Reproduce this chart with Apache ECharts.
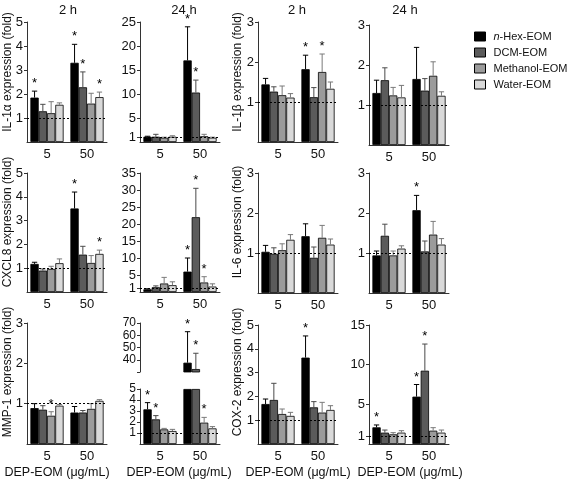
<!DOCTYPE html>
<html><head><meta charset="utf-8">
<script src="https://cdn.jsdelivr.net/npm/echarts@6/dist/echarts.min.js"></script>
<style>html,body{margin:0;padding:0;background:#fff}#c{width:567px;height:479px}</style>
</head><body><div id="c"></div>
<script>
// ---------- DATA ----------
const seriesNames = ['n-Hex-EOM', 'DCM-EOM', 'Methanol-EOM', 'Water-EOM'];
const doses = ['5', '50'];

// values per series: [dose 5, dose 50]
const il1a2hMean = [[1.85, 3.3], [1.28, 2.28], [1.2, 1.6], [1.55, 1.87]];
const il1a2hErr  = [[2.12, 4.07], [1.57, 2.92], [1.68, 2.03], [1.63, 2.08]];
const il1a2hStar = [[1, 1], [0, 1], [0, 0], [0, 1]];

const il1a24hMean = [[1.1, 17.0], [1.1, 10.3], [0.9, 1.2], [1.1, 0.9]];
const il1a24hErr  = [[1.2, 24.0], [1.6, 12.9], [1.0, 1.6], [1.3, 1.0]];
const il1a24hStar = [[0, 1], [0, 1], [0, 0], [0, 0]];

const il1b2hMean = [[1.44, 1.82], [1.26, 1.12], [1.17, 1.75], [1.11, 1.33]];
const il1b2hErr  = [[1.59, 2.17], [1.38, 1.36], [1.4, 2.2], [1.21, 1.5]];
const il1b2hStar = [[0, 1], [0, 0], [0, 1], [0, 0]];

const il1b24hMean = [[1.3, 1.65], [1.62, 1.36], [1.24, 1.73], [1.19, 1.23]];
const il1b24hErr  = [[1.62, 2.44], [1.93, 1.66], [1.44, 2.08], [1.49, 1.33]];
const il1b24hStar = [[0, 0], [0, 0], [0, 0], [0, 0]];

const cxcl82hMean = [[1.18, 3.51], [0.9, 1.57], [0.97, 1.22], [1.21, 1.6]];
const cxcl82hErr  = [[1.25, 4.2], [0.97, 1.92], [1.08, 1.53], [1.39, 1.76]];
const cxcl82hStar = [[0, 1], [0, 0], [0, 0], [0, 1]];

const cxcl824hMean = [[0.8, 6.0], [1.4, 22.0], [2.5, 2.8], [2.0, 1.6]];
const cxcl824hErr  = [[0.95, 10.0], [1.8, 30.5], [4.3, 4.5], [3.0, 2.4]];
const cxcl824hStar = [[0, 1], [0, 1], [0, 1], [0, 0]];

const il62hMean = [[1.03, 1.42], [0.98, 0.88], [1.07, 1.38], [1.33, 1.21]];
const il62hErr  = [[1.19, 1.73], [1.13, 1.15], [1.23, 1.69], [1.46, 1.35]];
const il62hStar = [[0, 0], [0, 0], [0, 0], [0, 0]];

const il624hMean = [[0.94, 2.07], [1.43, 1.04], [0.94, 1.46], [1.11, 1.21]];
const il624hErr  = [[1.05, 2.44], [1.72, 1.3], [1.05, 1.79], [1.18, 1.36]];
const il624hStar = [[0, 1], [0, 0], [0, 0], [0, 0]];

const mmp12hMean = [[0.89, 0.78], [0.85, 0.78], [0.7, 0.87], [0.95, 1.07]];
const mmp12hErr  = [[1.0, 0.93], [0.95, 0.83], [0.8, 1.0], [0.98, 1.1]];
const mmp12hStar = [[0, 0], [0, 0], [1, 0], [0, 0]];

const mmp124hMean = [[3.15, 37.6], [2.24, 32.4], [1.33, 1.94], [1.18, 1.42]];
const mmp124hErr  = [[3.76, 62.9], [2.58, 45.3], [1.42, 2.42], [1.33, 1.58]];
const mmp124hStar = [[1, 1], [1, 1], [0, 1], [0, 0]];

const cox22hMean = [[1.68, 3.63], [1.85, 1.54], [1.26, 1.32], [1.18, 1.43]];
const cox22hErr  = [[1.89, 4.54], [2.55, 1.78], [1.47, 1.75], [1.33, 1.61]];
const cox22hStar = [[0, 1], [0, 0], [0, 0], [0, 0]];

const cox224hMean = [[2.1, 5.97], [1.43, 9.24], [1.22, 1.68], [1.43, 1.43]];
const cox224hErr  = [[2.4, 7.5], [1.76, 12.6], [1.43, 2.06], [1.68, 1.76]];
const cox224hStar = [[1, 1], [0, 1], [0, 0], [0, 0]];

// tick labels
const ticks5 = [1, 2, 3, 4, 5];
const ticks3 = [1, 2, 3];
const ticks25 = [1, 5, 10, 15, 20, 25];
const ticks35 = [1, 5, 10, 15, 20, 25, 30, 35];
const ticks15 = [1, 5, 10, 15];
const ticksBreakLowOdd = [1, 3, 5];
const ticksBreakLowEven = [2, 4];
const ticksBreakHigh = [40, 50, 60, 70];

const colTitles = ['2 h', '24 h', '2 h', '24 h'];
const yNames = ['IL-1α expression (fold)', 'IL-1β expression (fold)',
                'CXCL8 expression (fold)', 'IL-6 expression (fold)',
                'MMP-1 expression (fold)', 'COX-2 expression (fold)'];
const xName = 'DEP-EOM (μg/mL)';

// ---------- STYLE / LAYOUT ----------
const FONT = '"Liberation Sans", Arial, sans-serif';
const colors = ['#000000', '#5b5b5b', '#9b9b9b', '#d9d9d9'];
const errColors = ['#000000', '#4a4a4a', '#7a7a7a', '#777777'];
const CAT_GAP = 0.17;
const colLeft = [27, 140, 258, 369];
const PW = 80;

const option = {
  animation: false,
  backgroundColor: '#fff',
  grid: [], xAxis: [], yAxis: [], series: [], graphic: [],
  legend: {
    orient: 'vertical', left: 469, top: 26, itemWidth: 11, itemHeight: 9, itemGap: 5,
    icon: 'rect', selectedMode: false, data: seriesNames,
    itemStyle: { borderColor: '#000', borderWidth: 1 },
    formatter: n => n.indexOf('n-') === 0 ? '{i|n}-Hex-EOM' : n,
    textStyle: { fontSize: 11, fontFamily: FONT, color: '#111', padding: [0, 0, 0, 3],
      rich: { i: { fontStyle: 'italic', fontSize: 11, fontFamily: FONT, color: '#111' } } }
  }
};

function errRender(params, api) {
  const ci = api.value(0), si = api.value(1), m = api.value(2), e = api.value(3), st = api.value(4), showErr = api.value(5);
  const band = api.size([1, 0])[0];
  const bw = band * (1 - CAT_GAP) / 4;
  const cx = api.coord([ci, 0])[0] + (si - 1.5) * bw;
  const y0 = api.coord([ci, m])[1];
  const y1 = api.coord([ci, e])[1];
  const cap = bw * 0.32;
  const ch = [];
  if (showErr) {
    ch.push({ type: 'line', shape: { x1: cx, y1: y0, x2: cx, y2: y1 }, style: { stroke: errColors[si], lineWidth: 1 } });
    ch.push({ type: 'line', shape: { x1: cx - cap, y1: y1, x2: cx + cap, y2: y1 }, style: { stroke: errColors[si], lineWidth: 1 } });
  }
  if (st) ch.push({ type: 'text', x: cx, y: y1 - 1,
    style: { text: '*', textAlign: 'center', textVerticalAlign: 'bottom', align: 'center', verticalAlign: 'bottom', font: '13px ' + FONT, fill: '#000' } });
  return { type: 'group', children: ch };
}

function yAxisOpt(g, cfg, labels, ticks, showLine) {
  return {
    type: 'value', gridIndex: g, min: cfg.min, max: cfg.max, position: 'left', offset: 0,
    axisLine: { show: showLine, lineStyle: { color: '#333', width: 1 } },
    axisTick: { show: true, length: 3, customValues: ticks, lineStyle: { color: '#333' } },
    axisLabel: { customValues: labels, fontSize: cfg.labelSize || 13, color: '#111', margin: 4, fontFamily: FONT,
      showMinLabel: true, showMaxLabel: true, hideOverlap: false },
    splitLine: { show: false }
  };
}

function addPanel(cfg) {
  const g = option.grid.length;
  option.grid.push({ left: cfg.left, top: cfg.top, width: PW, height: cfg.height });
  option.xAxis.push({
    type: 'category', gridIndex: g, data: doses, show: cfg.showX !== false,
    axisLine: { lineStyle: { color: '#333', width: 1 } },
    axisTick: { alignWithLabel: true, length: 4, lineStyle: { color: '#333' } },
    axisLabel: { fontSize: 13, color: '#111', margin: 6, fontFamily: FONT }
  });
  const yIdx = option.yAxis.length;
  option.yAxis.push(yAxisOpt(g, cfg, cfg.labels, cfg.tickVals || cfg.labels, true));
  if (cfg.extraLabels) option.yAxis.push(yAxisOpt(g, cfg, cfg.extraLabels, cfg.extraLabels, false));
  const clipTop = cfg.clipTop, keepMin = cfg.keepMin;
  seriesNames.forEach((n, si) => {
    const vals = cfg.mean[si].map(v => {
      if (keepMin !== undefined && v <= keepMin) return '-';
      if (clipTop !== undefined) return Math.min(v, clipTop);
      return v;
    });
    const s = {
      type: 'bar', name: n, xAxisIndex: g, yAxisIndex: yIdx, data: vals,
      barGap: '0%', barCategoryGap: (CAT_GAP * 100) + '%', clip: true,
      itemStyle: { color: colors[si], borderColor: '#000', borderWidth: 0.8 },
      emphasis: { disabled: true }
    };
    if (si === 0 && cfg.refLine) {
      s.markLine = { silent: true, symbol: 'none', z: 10, label: { show: false },
        lineStyle: { type: [2, 2], color: '#000', width: 1 }, data: [{ yAxis: 1 }] };
    }
    option.series.push(s);
  });
  const items = [];
  seriesNames.forEach((n, si) => {
    for (let ci = 0; ci < 2; ci++) {
      const m = cfg.mean[si][ci], e = cfg.err[si][ci], st = cfg.star[si][ci];
      if (keepMin !== undefined && m <= keepMin) continue;
      if (clipTop !== undefined && m > clipTop) continue;
      items.push([ci, si, m, e, st, 1]);
    }
  });
  option.series.push({
    type: 'custom', xAxisIndex: g, yAxisIndex: yIdx, renderItem: errRender, data: items,
    encode: { x: 0, y: 3 }, clip: false, z: 5, silent: true
  });
}

// row 1
addPanel({ left: colLeft[0], top: 22, height: 120, min: 0, max: 5, labels: ticks5, mean: il1a2hMean, err: il1a2hErr, star: il1a2hStar, refLine: true });
addPanel({ left: colLeft[1], top: 22, height: 120, min: 0, max: 25, labels: ticks25, mean: il1a24hMean, err: il1a24hErr, star: il1a24hStar, refLine: true });
addPanel({ left: colLeft[2], top: 22, height: 120, min: 0, max: 3, labels: ticks3, mean: il1b2hMean, err: il1b2hErr, star: il1b2hStar, refLine: true });
addPanel({ left: colLeft[3], top: 25, height: 120, min: 0, max: 3, labels: ticks3, mean: il1b24hMean, err: il1b24hErr, star: il1b24hStar, refLine: true });
// row 2
addPanel({ left: colLeft[0], top: 173, height: 119, min: 0, max: 5, labels: ticks5, mean: cxcl82hMean, err: cxcl82hErr, star: cxcl82hStar, refLine: true });
addPanel({ left: colLeft[1], top: 173, height: 119, min: 0, max: 35, labels: ticks35, mean: cxcl824hMean, err: cxcl824hErr, star: cxcl824hStar, refLine: true });
addPanel({ left: colLeft[2], top: 173, height: 120, min: 0, max: 3, labels: ticks3, mean: il62hMean, err: il62hErr, star: il62hStar, refLine: true });
addPanel({ left: colLeft[3], top: 173, height: 120, min: 0, max: 3, labels: ticks3, mean: il624hMean, err: il624hErr, star: il624hStar, refLine: true });
// row 3
addPanel({ left: colLeft[0], top: 323, height: 121, min: 0, max: 3, labels: ticks3, mean: mmp12hMean, err: mmp12hErr, star: mmp12hStar, refLine: true });
addPanel({ left: colLeft[1], top: 323, height: 49, min: 30, max: 70, labels: ticksBreakHigh, tickVals: [30, 40, 50, 60, 70], labelSize: 12, mean: mmp124hMean, err: mmp124hErr, star: mmp124hStar, keepMin: 30, showX: false });
addPanel({ left: colLeft[1], top: 389, height: 55, min: 0, max: 5, labels: ticksBreakLowOdd, extraLabels: ticksBreakLowEven, labelSize: 12, mean: mmp124hMean, err: mmp124hErr, star: mmp124hStar, clipTop: 5, refLine: true });
addPanel({ left: colLeft[2], top: 325, height: 119, min: 0, max: 5, labels: ticks5, mean: cox22hMean, err: cox22hErr, star: cox22hStar, refLine: true });
addPanel({ left: colLeft[3], top: 325, height: 119, min: 0, max: 15, labels: ticks15, mean: cox224hMean, err: cox224hErr, star: cox224hStar, refLine: true });

// texts
function txt(t, x, y, size, rot) {
  option.graphic.push({ type: 'text', x: x, y: y, rotation: rot || 0, silent: true,
    style: { text: t, textAlign: 'center', textVerticalAlign: 'middle', align: 'center', verticalAlign: 'middle',
      font: size + 'px ' + FONT, fill: '#111' } });
}
const titleX = [68, 184, 297, 405];
colTitles.forEach((t, i) => txt(t, titleX[i], 10, 13));
const yNameX = [8, 238];
const yNameY = [72, 222, 372];
yNames.forEach((t, i) => txt(t, yNameX[i % 2], yNameY[Math.floor(i / 2)], 12, Math.PI / 2));
const xNameX = [57, 179, 298, 410];
xNameX.forEach(x => txt(xName, x, 473, 12.5));

const chart = echarts.init(document.getElementById('c'), null, { renderer: 'canvas' });
chart.setOption(option);
</script>
</body></html>
